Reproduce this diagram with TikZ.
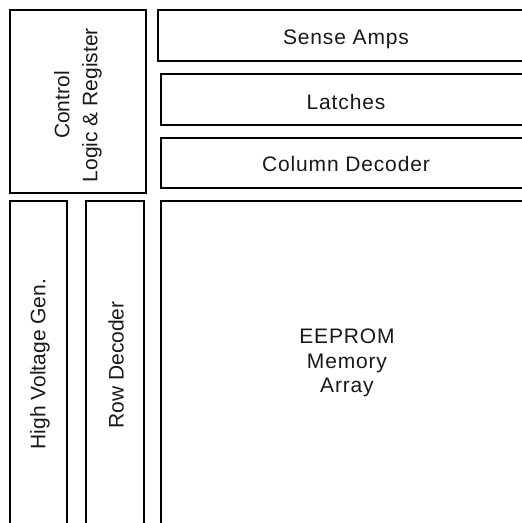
\documentclass[tikz,border=0pt]{standalone}
\usepackage{fontspec}
\setmainfont{Liberation Sans}
\newfontfamily\spacedfont[LetterSpace=4]{Liberation Sans}
\begin{document}
\begin{tikzpicture}[x=1pt,y=-1pt,
  blk/.style={draw=black, line width=1.7pt, fill=white, inner sep=0pt, outer sep=0pt, anchor=north west},
  htext/.style={font=\spacedfont\fontsize{21}{24.5}\selectfont, text=black!90, align=center, inner sep=0pt},
  vtext/.style={font=\fontsize{21}{28}\selectfont, text=black!90, align=center, inner sep=0pt, rotate=90}]
\useasboundingbox (0,0) rectangle (522,523);
\clip (0,0) rectangle (522,523);
% top-left control block
\node[blk, minimum width=136pt, minimum height=183pt] (ctrl) at (10,10) {};
% top-right stacked blocks
\node[blk, minimum width=375pt, minimum height=51pt] (sense) at (158,10) {};
\node[blk, minimum width=372pt, minimum height=51pt] (latch) at (161,74) {};
\node[blk, minimum width=372pt, minimum height=50pt] (coldec) at (161,138) {};
% bottom blocks
\node[blk, minimum width=57pt, minimum height=326pt] (hv) at (10,201) {};
\node[blk, minimum width=58pt, minimum height=326pt] (rowdec) at (86,201) {};
\node[blk, minimum width=372pt, minimum height=326pt] (mem) at (161,201) {};
% labels
\node[htext, anchor=base] (tsense) at (346,44.5) {Sense Amps};
\node[htext, anchor=base] (tlatch) at (346,109) {Latches};
\node[htext, anchor=base] (tcol) at (346,171.5) {Column Decoder};
\node[htext] (tmem) at (347,363) {EEPROM\\Memory\\Array};
\node[vtext] (tctrl) at (78,105) {Control\\Logic \& Register};
\node[vtext] (thv) at (40,364) {High Voltage Gen.};
\node[vtext] (trow) at (116,365) {Row Decoder};
\end{tikzpicture}
\end{document}
